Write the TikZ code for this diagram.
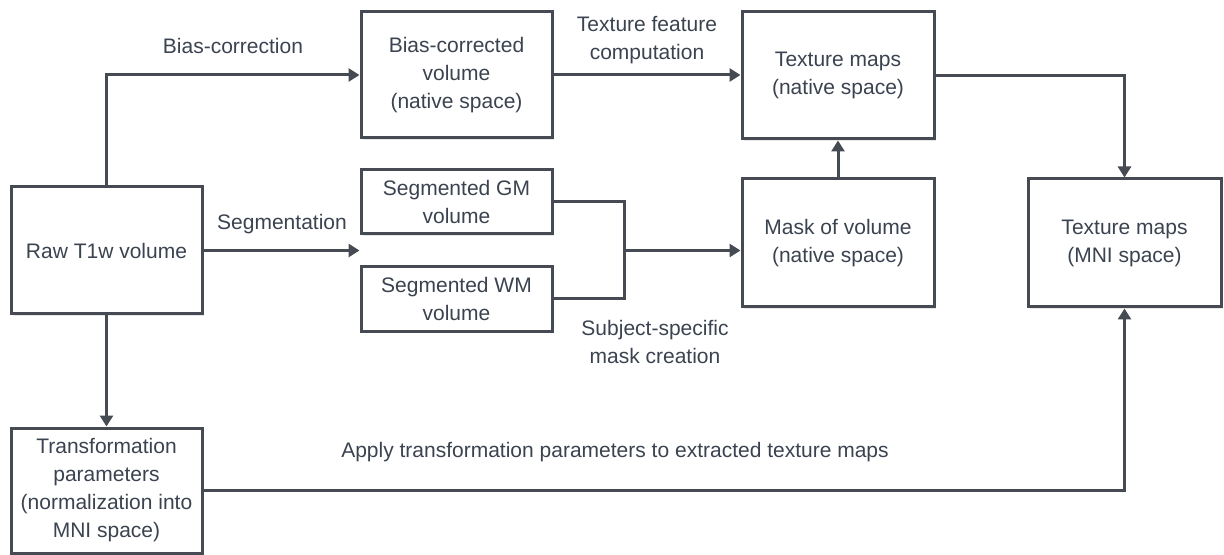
\documentclass[tikz,border=0pt]{standalone}
\usepackage{fontspec}
\setmainfont{Liberation Sans}
\usetikzlibrary{arrows.meta,shadows,calc}
\definecolor{txtc}{HTML}{3B4350}
\definecolor{linec}{HTML}{464A52}
\begin{document}
\begin{tikzpicture}[x=0.5pt,y=-0.5pt,
  font=\fontsize{10.5pt}{14pt}\selectfont,
  box/.style={draw=linec, line width=1.5pt, fill=white, text=txtc, align=center, inner sep=0pt,
    drop shadow={opacity=0.18, shadow xshift=0.8pt, shadow yshift=-0.8pt}},
  lbl/.style={text=txtc, align=center, inner sep=0pt},
  conn/.style={draw=linec, line width=1.5pt},
  arr/.style={conn, -{Triangle[length=5.5pt,width=6.5pt]}}]
\useasboundingbox (0,0) rectangle (1224,555);
\node[box, minimum width=95.5pt, minimum height=63.5pt] (raw) at (106.5,250.5) {Raw T1w volume};
\node[box, minimum width=95.5pt, minimum height=63pt] (bias) at (456.5,75) {Bias-corrected\\volume\\(native space)};
\node[box, minimum width=95.5pt, minimum height=32pt] (gm) at (456.5,202) {Segmented GM\\volume};
\node[box, minimum width=95.5pt, minimum height=32pt] (wm) at (456.5,299) {Segmented WM\\volume};
\node[box, minimum width=96pt, minimum height=63.5pt] (texn) at (838,75.5) {Texture maps\\(native space)};
\node[box, minimum width=96pt, minimum height=64pt] (mask) at (838,243) {Mask of volume\\(native space)};
\node[box, minimum width=96.5pt, minimum height=64pt] (mni) at (1124.5,243) {Texture maps\\(MNI space)};
\node[box, minimum width=95.5pt, minimum height=62.5pt] (trans) at (106.5,490.5) {Transformation\\parameters\\(normalization into\\MNI space)};

\node[lbl] (lbias) at (233,46) {Bias-correction};
\node[lbl] (ltex) at (647,40) {Texture feature\\computation};
\node[lbl] (lseg) at (282,224) {Segmentation};
\node[lbl] (lmask) at (655,342) {Subject-specific\\mask creation};
\node[lbl] (lapply) at (615,452) {Apply transformation parameters to extracted texture maps};

\coordinate (segend) at (raw.east -| gm.west);
\coordinate (jgm) at (624,0 |- gm.east);
\coordinate (jwm) at (624,0 |- wm.east);
\coordinate (jmid) at ($(jgm)!0.5!(jwm)$);

\draw[arr] (raw.north) |- (bias.west);
\draw[arr] (raw.east) -- (segend);
\draw[arr] (raw.south) -- (trans.north);
\draw[arr] (bias.east) -- (bias.east -| texn.west);
\draw[arr] (texn.east) -| (mni.north);
\draw[arr] (mask.north) -- (texn.south);
\draw[conn] (gm.east) -- (jgm) -- (jwm) -- (wm.east);
\draw[arr] (jmid) -- (jmid -| mask.west);
\draw[arr] (trans.east) -| (mni.south);
\end{tikzpicture}
\end{document}
